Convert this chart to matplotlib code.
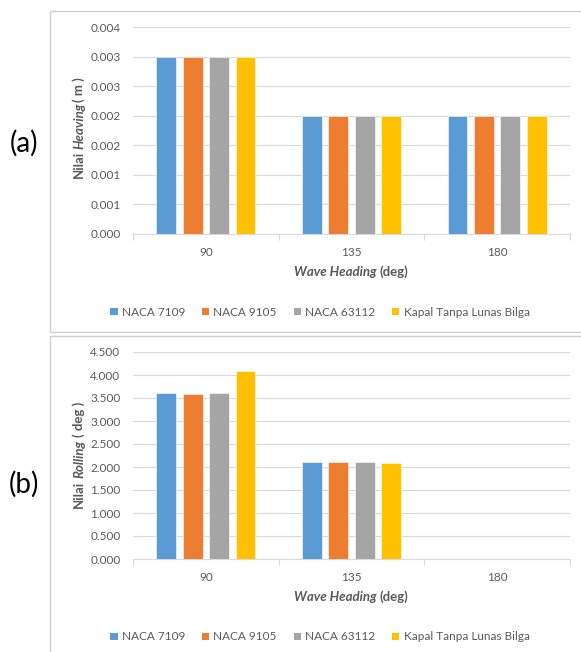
import matplotlib
matplotlib.use('Agg')
import matplotlib.pyplot as plt
import numpy as np
from matplotlib.patches import Rectangle, Patch
from matplotlib.transforms import IdentityTransform

plt.rcParams['font.family'] = ['Lato', 'DejaVu Sans']

# ---------------- data ----------------
categories = ['90', '135', '180']
series_names = ['NACA 7109', 'NACA 9105', 'NACA 63112', 'Kapal Tanpa Lunas Bilga']
series_colors = ['#5B9BD5', '#ED7D31', '#A5A5A5', '#FFC000']

heave_naca7109 = [0.003, 0.002, 0.002]
heave_naca9105 = [0.003, 0.002, 0.002]
heave_naca63112 = [0.003, 0.002, 0.002]
heave_kapal = [0.003, 0.002, 0.002]

roll_naca7109 = [3.60, 2.10, 0.0]
roll_naca9105 = [3.58, 2.10, 0.0]
roll_naca63112 = [3.60, 2.10, 0.0]
roll_kapal = [4.09, 2.08, 0.0]

heave_ticks = [0.0, 0.0005, 0.001, 0.0015, 0.002, 0.0025, 0.003, 0.0035]
heave_tick_labels = ['0.000', '0.001', '0.001', '0.002', '0.002', '0.003', '0.003', '0.004']
roll_ticks = [0.0, 0.5, 1.0, 1.5, 2.0, 2.5, 3.0, 3.5, 4.0, 4.5]
roll_tick_labels = ['0.000', '0.500', '1.000', '1.500', '2.000', '2.500', '3.000', '3.500', '4.000', '4.500']

W, H = 581, 652
fig = plt.figure(figsize=(W / 100, H / 100), dpi=100)

def fx(x):
    return x / W

def fy(y):
    return 1 - y / H

TXT = '#595959'
GRID = '#D9D9D9'

# chart area borders
for (y0, y1) in [(11, 332), (336, 662)]:
    fig.patches.append(Rectangle((fx(50), fy(y1)), fx(600) - fx(50), fy(y0) - fy(y1),
                                 transform=fig.transFigure, fill=False,
                                 edgecolor='#D0D0D0', linewidth=1.0))


def make_axes(top_px, bottom_px, values, ticks, ticklabels):
    ax = fig.add_axes([fx(133), fy(bottom_px), fx(570) - fx(133), fy(top_px) - fy(bottom_px)])
    n = len(values)
    step = 0.1815
    width = 0.137
    x = np.arange(len(categories))
    for i, (vals, c) in enumerate(zip(values, series_colors)):
        ax.bar(x + (i - (n - 1) / 2) * step, vals, width=width, color=c,
               edgecolor='white', linewidth=0.4, zorder=3)
    ax.set_xlim(-0.5, len(categories) - 0.5)
    ax.set_ylim(ticks[0], ticks[-1])
    ax.set_yticks(ticks)
    ax.set_yticklabels(ticklabels)
    ax.set_xticks(np.arange(len(categories) + 1) - 0.5)
    ax.set_xticklabels([''] * (len(categories) + 1))
    ax.set_xticks(x, minor=True)
    ax.set_xticklabels(categories, minor=True)
    ax.tick_params(axis='x', which='major', length=4, width=0.8, color=GRID, direction='out')
    ax.tick_params(axis='x', which='minor', length=0, pad=9.5, labelsize=8.5, labelcolor=TXT)
    ax.tick_params(axis='y', length=0, pad=9, labelsize=8.5, labelcolor=TXT)
    for s in ['top', 'right', 'left']:
        ax.spines[s].set_visible(False)
    ax.spines['bottom'].set_color(GRID)
    ax.spines['bottom'].set_linewidth(0.8)
    ax.yaxis.grid(True, color=GRID, linewidth=0.8, zorder=0)
    ax.set_axisbelow(True)
    return ax


ax1 = make_axes(27, 234, [heave_naca7109, heave_naca9105, heave_naca63112, heave_kapal],
                heave_ticks, heave_tick_labels)
ax2 = make_axes(352, 559, [roll_naca7109, roll_naca9105, roll_naca63112, roll_kapal],
                roll_ticks, roll_tick_labels)

fig.canvas.draw()
renderer = fig.canvas.get_renderer()

SIZE_T = 9.5


def measure(s, style):
    t = fig.text(0, 0, s, fontsize=SIZE_T, fontweight='bold', fontstyle=style)
    w = t.get_window_extent(renderer).width
    t.remove()
    return w


space_w = 0.8 * (measure('x x', 'normal') - measure('xx', 'normal'))


def styled(cx, cy, pieces, rotation=0):
    # cx, cy in pixels (top-left origin)
    widths = []
    for s, style in pieces:
        widths.append(space_w if s == ' ' else measure(s, style))
    total = sum(widths)
    px = cx
    py = H - cy
    if rotation == 0:
        pos = px - total / 2
    else:
        pos = py - total / 2
    for (s, style), w in zip(pieces, widths):
        if s != ' ':
            if rotation == 0:
                fig.text(pos, py, s, transform=IdentityTransform(), fontsize=SIZE_T,
                         fontweight='bold', fontstyle=style, color=TXT,
                         ha='left', va='center')
            else:
                fig.text(px, pos, s, transform=IdentityTransform(), fontsize=SIZE_T,
                         fontweight='bold', fontstyle=style, color=TXT,
                         ha='left', va='center', rotation=90, rotation_mode='anchor')
        pos += w


styled(79, 128, [('Nilai', 'normal'), (' ', 'normal'), ('Heaving', 'italic'), ('( m )', 'normal')], rotation=90)
styled(79, 455, [('Nilai', 'normal'), (' ', 'normal'), ('Rolling', 'italic'), (' ', 'normal'), ('( deg )', 'normal')], rotation=90)
styled(351, 272, [('Wave Heading', 'italic'), (' ', 'normal'), ('(deg)', 'normal')])
styled(351, 597, [('Wave Heading', 'italic'), (' ', 'normal'), ('(deg)', 'normal')])

handles = [Patch(facecolor=c, edgecolor='none', label=n) for n, c in zip(series_names, series_colors)]
for ly in (312, 637):
    fig.legend(handles=handles, loc='center', bbox_to_anchor=(fx(320), fy(ly)), ncol=4,
               frameon=False, fontsize=8.5, labelcolor=TXT, handlelength=0.6,
               handleheight=0.6, handletextpad=0.35, columnspacing=1.45, borderpad=0)

fig.text(fx(24), fy(143), '(a)', fontsize=20, ha='center', va='center', color='black')
fig.text(fx(24), fy(484), '(b)', fontsize=20, ha='center', va='center', color='black')

fig.savefig('out.png', dpi=100)
